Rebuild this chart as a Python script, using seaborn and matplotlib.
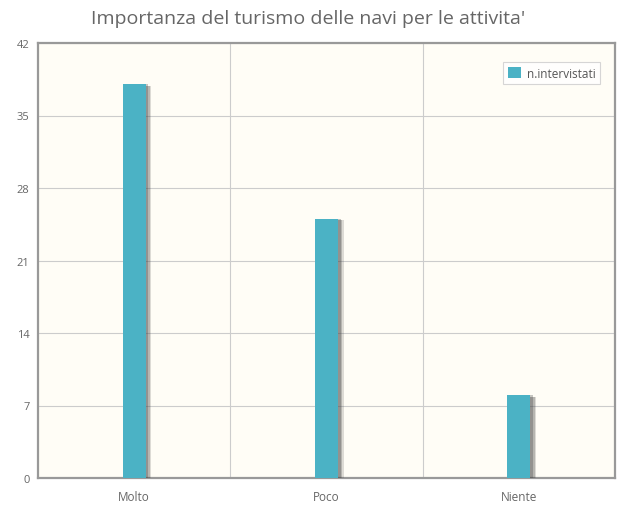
import matplotlib
matplotlib.use("Agg")
import matplotlib.pyplot as plt
import matplotlib.patheffects as pe
import seaborn as sns
import pandas as pd

categories = ["Molto", "Poco", "Niente"]
values = [38, 25, 8]
series_name = "n.intervistati"
y_ticks = [0, 7, 14, 21, 28, 35, 42]
title = "Importanza del turismo delle navi per le attivita'"

df = pd.DataFrame({"categoria": categories, series_name: values})

sns.set_style("white")
plt.rcParams["font.family"] = ["Open Sans", "DejaVu Sans"]

fig = plt.figure(figsize=(6.17, 5.06), dpi=100)
ax = fig.add_axes([38 / 617, 1 - 479 / 506, 577 / 617, 435 / 506])
ax.set_facecolor("#fffdf6")

sns.barplot(data=df, x="categoria", y=series_name, color="#4bb2c5",
            saturation=1, width=0.12, ax=ax, label=series_name, zorder=3,
            linewidth=0, edgecolor="none")

ax.set_xlim(-0.5, len(categories) - 0.5)
ax.set_ylim(0, 42)
ax.set_yticks(y_ticks)
ax.set_xticks(range(len(categories)))
ax.set_xticklabels(categories)
ax.set_xticks([i + 0.5 for i in range(len(categories) - 1)], minor=True)
ax.set_xlabel("")
ax.set_ylabel("")

ax.grid(axis="y", which="major", color="#cccccc", linewidth=0.8, zorder=0)
ax.grid(axis="x", which="minor", color="#cccccc", linewidth=0.8, zorder=0)
ax.set_axisbelow(True)

ax.tick_params(axis="x", which="major", length=0, labelsize=8.5, labelcolor="#666666", pad=9)
ax.tick_params(axis="x", which="minor", length=4, color="#999999", direction="out")
ax.tick_params(axis="y", length=4, color="#999999", direction="out",
               labelsize=8, labelcolor="#666666", pad=2)

for s in ax.spines.values():
    s.set_color("#999999")
    s.set_linewidth(1.6)

fig.text(0.5, 0.963, title, ha="center", va="center", fontsize=14, color="#666666")

leg = ax.legend(loc="upper right", fontsize=8.5, frameon=True, fancybox=False,
                handlelength=1.1, handleheight=1.1, borderpad=0.4,
                handletextpad=0.5, bbox_to_anchor=(0.985, 0.97))
leg.get_frame().set_edgecolor("#cccccc")
leg.get_frame().set_facecolor("white")
leg.get_frame().set_linewidth(0.8)
for t in leg.get_texts():
    t.set_color("#555555")

# soft drop shadow on the bars only
for p in ax.patches:
    p.set_path_effects([
        pe.SimplePatchShadow(offset=(4, -1), shadow_rgbFace="#444444", alpha=0.18),
        pe.SimplePatchShadow(offset=(3, -1), shadow_rgbFace="#444444", alpha=0.25),
        pe.SimplePatchShadow(offset=(2, 0), shadow_rgbFace="#444444", alpha=0.3),
        pe.Normal()])

fig.savefig("out.png", dpi=100)
